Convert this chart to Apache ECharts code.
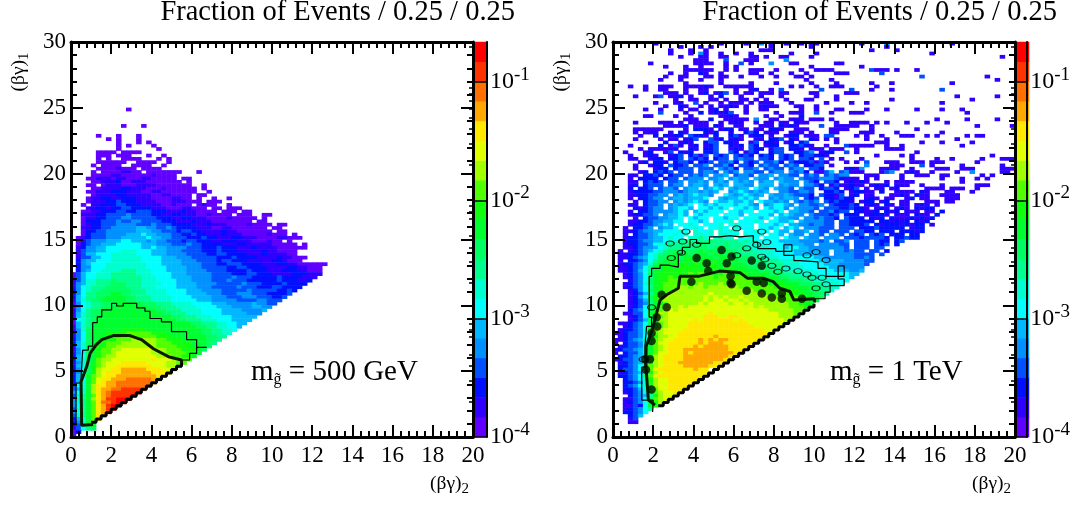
<!DOCTYPE html>
<html><head><meta charset="utf-8">
<style>html,body{margin:0;padding:0;background:#fff}#c{width:1073px;height:510px}</style>
<script src="https://cdn.jsdelivr.net/npm/echarts@6/dist/echarts.min.js"></script>
</head><body><div id="c"></div>
<script>
// palette bands, lowest fraction (a) to highest (t)
const paletteColors=['#6000ff','#3000ff','#0010ff','#0050ff','#0090ff','#00b8ff','#00ffff','#00ffd0','#00ff90','#00ff60','#00ff30','#10ff10','#50ff00','#a0ff00','#e0ff00','#ffe800','#ffa800','#ff7000','#ff3300','#ff0000'];
const barMajorValues=[1e-4,1e-3,1e-2,1e-1];
const barMinorValues=[2e-4,3e-4,4e-4,5e-4,6e-4,7e-4,8e-4,9e-4,2e-3,3e-3,4e-3,5e-3,6e-3,7e-3,8e-3,9e-3,2e-2,3e-2,4e-2,5e-2,6e-2,7e-2,8e-2,9e-2,2e-1];
// left panel: "row:" then runs of band letter + length, from column 0
const leftRows=["99:.11a1","94:.10a1.3a1","91:.5a1.3a1.3a1","90:.7a1.1a1.3a1","89:.9a1.3a1.1a1","88:.9a1.1a1.4a1","87:.9a1.7a1","86:.5a4.1a4","85:.5a3.1a3.3a1.2a1","84:.5a1.1a1.2a4.3a1.1a1","83:.5a6.2a4.2a1","82:.4a1.1a4.2a4.2a1","81:.5a4b1a3.1a4","80:.4a1.1a4b2a2.1a7.3a1","79:.4a4b2a6b1a4","78:.3a2b3a1b2a3b2a5.1a2","77:.4a2b3c1a2b3a7.1a1","76:.3a2.1a1b3a3b4a7.2a1","75:.4a2b4c2b3a3b1a6.1a1","74:.3a2b3c3b3a2b2a7.2a1","73:.4a1b4c2b5a2b2a4.1a2","72:.3a1b2c2b2c3b3a4b2a2.1a1.2a1.2a1","71:.3a1b3c2d1c3b4a3b3a3.1a3","70:.2a1.1b2c3d2c3b4a2b1a3.1a1b1a2.2a1","69:.3b2c2b1c2d2c4b3a3b2a3.1a2.1a3","68:.2a2b2c3d2c2d3c3b3c1b2a4.1a3.1a2","67:.2b3c2d4e1d4c2b2c2b3a2b1a4.1a3.2a2","66:.2a1b2c2d3e2d5c3b2c2b3a4b1a5.1a1","65:.2a1c3d3e1d2e2d4c3b3c1b3a8.1a2","64:.2a1b1c2d3e4d3e1d3c4b3c1b3a4b1a4.1a2","63:.2b2c2d2e5f2e2d2e1d1c4b3a2b2a7.1a2","62:.2a1c2d2e6f3e2d3c1d2c2b4c1b2a7.1a2","61:.2a1c1d3e4f3g1f2e3d2c2d1c2b3c1b3a5b1a3.1a1","60:.1a1b1c1d3e3f5g1f2e2d3c3d1c2b3c2b3a4b2a3","59:.1a1b1d1e3f3g2f3e1f1e2d3c1d2c3b2c3b3a3b1a2.1a1","58:.1a1c1d1e2f3g5f3e3d3e1d2c4b3c2b5a5.1a1","57:.1b1c1e2f2g7f2g1f2e4d3c3d1c3b3c1b4a6","56:.1b1d1e2f2g3h3g3f3e3d4c3d1c3b5c1b2a4","55:.1b1d1f2g3h5g3f3e4d4c2d2c4b3c1b4a2","54:.1b1d2f2g2h6g4f3e3d5c3d1c4b4c1b2a3","53:.1c1e1f2g3h6g4f4e3d4c1d2c3b5c2b1a3","52:.1c1e1f1g3h8g3f4e4d3c2d3c4b3c2b2a6","51:.1c1e2g3h8g4f4e3d5c2d2c4b4c2b2a3","50:.1c1e1f1g2h4i3h3g3f4e4d4c4d1c3b3c3b2a3","49:a1d1f1g2h3i5h3g4f3e5d4c3d2c3b4c3b3","48:a1d1f1g2h3i6h3g3f4e4d4e1d3c5d1c4b3","47:b1d1f1h2i3j1i5h3g4f3e4d3e1d3c6d1c3b2c1","46:b1e1f1h2i3j3i3h4g3f4e4d5e1d3c4d1c4","45:b1e1g1h1i3j4i3h3g4f4e3d5e1d3c3d2c4","44:c1e1g1h1i2j6i3h4g4f3e4d5e1d5c2d1c1","43:c1e1g1i2j3k2j2i3h4g4f4e3d3e3d3c4d1","42:c1f1g1i2j2k4j2i3h4g4f4e3d3e3d3c2d1","41:b1f1h1i1j2k5j2i3h4g5f3e5d4e2d3","40:a1e1g1h1i2j3k5j3i3h4g4f3e5f1e2d2","39:a1e1g1h1i2j2k7j3i3h4g4f3e4f2e2","38:b1e1g1i1j2k11j2i3h4g4f4e4f1","37:b1f1h1i1j2k12j2i3h3g4f5e3","36:b1f1h1i1j1k15j2i3h3g4f5","35:a1g1h1i1j1k16j2i3h3g3f4","34:a1f1h1i1k20j2i3h2g2f2","33:b1f1h1i1k21j2i2h2g2f1","32:b1e1h1j1k6l5k11j2i2h2g1","31:b1e1g1j1k3l4m5l3k7j2i2h2","30:b1e1g1j1k3l3m7l3k7j2i2","29:c1e1g1j1k2l3m3n5m2l3k5j2i1","28:c1f1h1j1k1l2m3n7m3l4k3j1i1","27:b1f1h1j1k1l2m2n8m4l3k3j1","26:b1e1g1j1k1l1m2n2o6n3m3l3k1j1","25:b1e1h1j1k1l1m2n1o7n3m4l2k1","24:c1f1g1j1k1l1m1n2o8n3m2l2k1","23:c1f1h1j1k1m1n2o8p1o3n2m2","22:b1e1h1j1k1m1n1o3p5o4n2m2","21:c1f1h1j1l1m1n1o2p7o3n2m1","20:c1e1g1j1l1n1o2p2q5p3o2n1","19:b1e1h1j1l1n1o1p3q6p3o1","18:c1f1h1k1m1n1o1p2q8p2","17:c1f1g1k1m1o1p2q3r5q2","16:c1f1h1k1m1o1p1q2r7q1","15:d1g1h1k1n1p2q2r7","14:d1f1h1k1n1p1q2r2s4r1","13:e1g1h1k1n1p1q1r1s6","12:d1h1i1k1m1p1q1r1s4t1","11:e1h1i1k1n1p1q1s2t3","10:e1h1i1k1m1p1r2s1t2","9:e1g1i1k1m1p1q1s1t2","8:d1h1i1k1m1p1q1s2","7:e1g1i1k1m1p1q1s1","6:d1h1i1k1m1p1q1","5:c1f1h1k1m1o1","4:c1e1h1k1m1","3:b1d1h1k2","2:b1d1g1i1j1","1:a1c1","0:a1"];
// right panel: "row:" then column + consecutive band letters
const rightRows=["119:8b 21b 26b 29e 31b 34b 37b 39bb 49b 54e 67b","118:13b 17b 19b 31b 39b 54b","117:11b 15b 18b 29bbb 51b 56b","116:11b 15b 17eb 21b 24b 27b 35b 40b 63b","115:13b 17bb 21bb 27bb 30b 33bb 39b 77b","114:16bbb 22d 26bbb 34e","113:7b 16bbb 19b 22b 25d 27b 31e 35bb 44bb","112:10b 14b 17b 22b 24b 39b 49b","111:14bb 16bbbb 22b 24b 27bbb 32b 37b 40bbbb 51dbbb 56b 60b","110:11b 14b 17cb 21b 27bb 31b 35b 38b 44bbb 53d","109:10b 13bb 18bb 21bb 25b 29b 32b 36bb 39b 61d 74b","108:9b 13b 17b 21b 38b 43b 76b","107:14b 21b 27b 32b 39b 44b 51b 55b 67b","106:3b 6b 9bbb 14bbb 17bc 19b 22b 23bbb 26bb 35b 37b 40b 43bbb 52b","105:6b 9bb 14b 17bb 24b 27bc 31b 33d 41d 47d 51b 55b 65d","104:10bbb 14b 17bc 20bcd 24b 26bb 29bbb 33bb 39bb 46bbb","103:4b 8bd 11bbc 15b 19b 21c 25b 29b 33b 40b 44b 68b 76b","102:12b 15bb 19bb 22b 25bb 28b 30b 34b 38bb 44b 55b 71b","101:8b 12bb 16d 18b 21b 23bbb 27b 29bbb 35b 42b 47b 50b 65b","100:10b 13cb 17b 19b 21bbc 24b 26b 29bcb 32b 36bb 40b","99:6b 9b 13b 15bb 19bc 22b 26b 29bb 37b 40b 44bb 50b 54b 60b 65b 69b","98:9d 14b 17c 19bcb 22cd 26b 32b 35bbb 40d 43b 47bbb 70b","97:6bb 12b 15b 21bb 23cb 30b 33b 37c","96:14bb 16b 19c 22bbb 25bb 28e 31bb 35bbb 39b 40bb 43b 64b 70b 76b","95:4b 9bbb 13b 15bbbb 21b 23bcb 28b 30bb 33bb 36cbb 44b 47bbbb 52b 54b 58b 62b 66b","94:10bbb 13bc 16bbb 20cb 24bb 29bbb 33cbcb 41d 44bbbbb 51b 72b 79b","93:4b 5bbbbb 14b 16cccb 21bcc 25bb 28bb 31ccb 36bbb 43bbbb 51b 60b","92:4b 6bbb 11b 13cb 18cbc 23b 26cdc 30bbb 35bbb 39b 43bb 49bbb 56b 65b","91:5b 8c 10cbcc 15dccb 20c 23cdb 27bcc 31b 34bcc 38bbb 42dd 48b 50b 53b 57bbb 62b 64b 70b 72bb","90:4b 9b 11bb 14bcd 19dbc 23bcb 28bb 31ccd 35cb 39cb 42b 44b 50b 54b 68b","89:6b 10c 13bcb 18cdd 22ccb 27bd 30ccb 34bc 37cd 44b 52bbb 61b 65b 71b","88:3b 9c 11bdb 15bc 18bcd 23cbc 27dc 30bcc 35ccd 38cb 42b 46dbb 49bbb 54b 57b 69b","87:5b 7bbbbbb 15cb 18ccd 23bcb 27dcc 31bdd 35ccb 39bbb 43bbb 48b 54bbbb","86:2b 6bc 10bd 13cbc 18ccd 23dc 26bdc 31cdd 36ccd 39e 41bcc 46d 48b 60b","85:3b 6bcb 11bcd 15cdbd 20dcd 24dcdc 29cdc 33dcd 37cdd 40ccb 52b 57b 59b 75b","84:3bb 7bcc 11ccd 15dcdc 20cdd 24dedd 29ddc 33dcd 37ddc 41d 43b 45b 49b 59b 64b 67b 73b 77bbb","83:5bc 8ccb 12cddc 17ccd 21ddec 26dcd 30ddec 35dcc 38cdb 41db 46b 48b 50d 54bbb 59bbb 63bbb 72b","82:4b 7bcc 11dccd 16dde 20ddec 25ddc 29dedd 34ded 38ccd 41d 43b 50e 55bbb 61d 63b 69b 77b","81:4b 8bcc 12cddd 17ddd 21edec 26dde 30dedd 35dee 39ddc 46bcbe 53bbbb 59b 64bbb 69bbb 77bbb","80:5bc 8cdcd 13ddd 17deed 22ede 26eedd 31dee 35edec 40bbd 43f 45de 47bbb 53bde 58bcb 63b 68b 71e 77bb","79:3bb 6ccdc 11cdd 15dede 20eef 24deed 29eef 33eedd 38ded 42dedee 50bbb 57b 60bbb 65bb 73b 75b","78:3b 5cccc 10cdd 14deee 19eef 23efee 28fee 32efee 37eddd 41eeedc 46bb 48b 50b 52b 57b 65b 69b 72b 74b","77:3bb 6cdcd 11dde 15eefe 20efe 24fefe 29eff 33feee 38edc 42ddc 46bc 48bcb 54b 56bbbb 69b","76:3bc 6cddd 11dee 15effe 20fef 24ffee 29fff 33efee 38eedc 43bdb 46bcb 49b 51bcbc 56bbb 61b 65b 72bbb","75:3c 5ccd 9deed 14eff 18efgf 23feff 28gfe 32feed 37edd 41cddc 46bcd 50b 52bb 55bc 62bbbb 67bbb 72b","74:3bcc 6ccddeee 13deffefef 23efgfefef 33eeddeed 42ccdc 47bcc 50bb 53c 56bbbb 61cb 66bb 71b","73:3bb 5ccddee 12efefgffe 22gfefgfef 31feefed 37ddc 41dccbd 47bc 50bb 55bbcb 60cbb 65bbbb","72:3b 5ccdee 11effefffg 21feffgfgf 31efeffe 38dcd 42ccbdcc 50bcb 54bb 58bc 61bb 66bbb","71:4b 6cddee 12efefgfe 20gffgffgf 29gffefe 36edede 42dcdccb 49bcc 53bc 57bb 62bbb 66bb","70:3bb 6cdde 11efefg 17gfgfgg 23gfggfe 30efggfe 37eedde 43dcccdc 50bcb 54cb 57bb 60bcb 64b","69:4cb 6cdee 11efggf 17ggfgfg 24ggfgf 30gfgge 36feeed 42dddcc 47dccb 52bcb 56bcb 60cb 62cc","68:3b 5ccdee 10eefgf 16fgfggg 23ggfgg 29gggfg 35ffeed 41ddec 45dd 48ccbbc 54cbc 58bbb 62bb 65c","67:3bc 5cdde 10effgf 16gfggg 22gggf 27ggggf 33fgfee 39edd 42dcd 46ccc 50bcc 53cb 56bbb 60cbb 64c","66:4b 6cdd 9eeffg 15gfgg 20ggfgg 26gggfg 32gffee 38eed 41eddc 46dccc 51cbc 55cbb 58bcb 61cb 63c","65:3bb 5ccde 9effgg 15ggfg 20gggh 25ggghg 31ggffg 37fee 40eedd 45ddc 48cccc 53ccb 56cbc 60cb 62c","64:3bc 5cdd 8efgf 13gghg 18gggh 23ghggg 29gggfg 35ffe 38ede 41edd 45ddc 48ccd 52cbc 55ccb 58cbcc 63b","63:2b 4ccde 9effg 14gghg 19gghg 24hggg 29ggfg 34fgf 38eee 41ddd 45ddd 49ccc 52dcc 55ccc 59bc 61c","62:2bb 4cde 7effg 11gghg 16hggh 21hghg 26gghgg 32gff 36eef 40edd 44ddd 48ddcc 53ccc 57cc 59cbc","61:2b 4cdd 7efgg 11ghgh 16hhgh 21hhgh 26hggg 31ggf 35fee 39eed 43eed 47dcd 51dcd 55ccc 59cc","60:2b 3ccd 6deff 10ghgg 15hhih 20hihh 25hghg 30ggg 34gff 38fee 42eee 46ddd 49cdd 52ddc 56ccd 59cc","59:2bc 4cde 7effg 11hhii 15iiii 19jiii 23iihi 27hhgg 31ggf 34fff 37eee 40ede 44dde 48ddd 52dcc 56cd","58:2b 3ccd 6deg 9hhi 12iiij 16ijji 20iiji 24iihh 28hhg 31ggg 34fff 37fee 41eee 44edd 48ddd 52dcd 56c","57:2bb 4cde 7efg 10hii 13ijij 17jjij 21jjii 25iihh 29hhg 32ggf 35ggf 38fee 41eee 44eed 48ddd 52dd","56:1b 3bcd 6efg 9hij 12jjjj 16jkjk 20jjkj 24jiii 28hhh 31hgg 34ggf 37ffe 40fee 44eed 47edd 51dd 54c","55:1bb 3ccd 6eg 8hij 11jkj 14kjkk 18kjkk 22jjji 26iii 29hhh 32gg 34ggf 37fff 40fee 44eee 47edd 50dd 53d","54:1b 2bc 4de 6fg 8hjj 11kkj 14kkkk 18kkjk 22kjjj 26jii 29ihh 32hgg 35ggg 38ggf 41fee 44eee 47ed 49ded","53:1b 3cc 5de 7gi 9jkk 12kkkl 16kkkk 20lkkk 24kjjj 28jii 31iih 34hhh 37ggg 40gff 43fff 46eee 49e 50dd","52:1bc 3cd 5ef 7hj 9kkk 12lkl 15kll 18kllk 22kkk 25kjj 28jii 31iii 34hhh 37ggg 40ggf 43ffe 46eee 49ed","51:1b 2bc 4de 6gi 8kkl 11lkl 14lll 17kll 20lkl 23lkk 26kjj 29jji 32iih 35hhh 38ggg 41ggf 44ffe 47ee 49e","50:1bb 3cd 5fg 7ik 9kll 12lll 15lll 18lll 21lll 24llk 27kkj 30jji 33ihh 36hhh 39hgg 42ggf 45ffe 48ef","49:2b 3cd 5eg 7jk 9lll 12lll 15mlm 18mml 21lml 24lll 27kkk 30kjj 33jii 36ihh 39hhg 42ggg 45ggf 48f","48:2bc 4de 6gi 8kl 10lml 13mmm 16mmm 19mlm 22mmm 25mll 28llk 31kkj 34jii 37iii 40hhh 43ggg 46gf","47:3b 4de 6gj 8kl 10lmm 13mmm 16mmm 19mmm 22mmm 25mmm 28lll 31lkk 34kjj 37jii 40hhh 43hgg 46g","46:2bc 4de 6hj 8kl 10mmm 13mmm 16mnm 19mmn 22mnm 25mmm 28mml 31lll 34kkk 37jjj 40iih 43hh 45g","45:2b 3cd 5eg 7ik 9lm 11mmn 14nmn 17nmn 20nnn 23nnm 26mmm 29mmm 32lll 35lkk 38kjj 41ii 43hh","44:3bc 5eg 7jk 9lm 11mnn 14nnn 17nnn 20nnn 23nnn 26nnm 29mmm 32mml 35ll 37kk 39jj 41ii 43h","43:3b 4cd 6fi 8kl 10mn 12nnn 15nnn 18non 21nnn 24nnn 27nnn 30mmm 33mml 36ll 38kk 40jj 42i","42:3bc 5eg 7jl 9mn 11nnn 14nnn 17non 20ono 23nno 26nnn 29nnn 32mmm 35mm 37ll 39kk 41j","41:3b 4cd 6fj 8lm 10nn 12nnn 15nnn 18ono 21ono 24ono 27nnn 30nnn 33mm 35mm 37ll 39kk","40:3bc 5de 7ik 9lm 11nn 13nnn 16non 19ooo 22ono 25ono 28nnn 31nn 33nn 35mm 37ll 39k","39:3b 4cd 6gj 8lm 10nn 12non 15ooo 18ooo 21ooo 24ooo 27ono 30nn 32nn 34nm 36mm 38l","38:3c 4de 6gj 8lm 10no 12noo 15ooo 18ooo 21ooo 24ooo 27ooo 30on 32nn 34nn 36mm","37:2bb 4dd 6gk 8ln 10no 12ooo 15ooo 18opo 21ooo 24ooo 27ooo 30oo 32on 34nn 36m","36:3bc 5dg 7jl 9mn 11oo 13ooo 16oop 19ppo 22opp 25ooo 28oo 30oo 32on 34nn","35:3b 4cd 6fj 8ln 10no 12ooo 15opo 18ppp 21ppp 24opo 27ooo 30oo 32oo 34n","34:1bb 3cd 5eg 7jl 9mn 11oo 13oop 16ppp 19ppp 22ppp 25ppo 28oo 30oo 32oo","33:2bc 4de 6gk 8lm 10no 12oo 14opp 17ppp 20ppp 23ppp 26ppo 29oo 31oo","32:1b 2cc 4de 6hk 8mn 10oo 12oo 14ppp 17ppp 20ppp 23ppp 26ppp 29po 31o","31:0bb 2cd 4de 6gk 8mn 10oo 12op 14ppp 17ppp 20ppp 23ppp 26ppp 29pp","30:1bc 3dd 5eg 7kl 9nn 11oo 13ppp 16ppp 19pqp 22ppp 25ppp 28ppp","29:0b 1bc 3de 5fh 7km 9no 11op 13ppp 16pqp 19qpq 22qpp 25ppp 28p","28:0b 2cd 4de 6gk 8mo 10op 12pp 14ppp 17qpq 20qqp 23ppp 26pp","27:1bc 3dd 5eg 7km 9no 11pp 13pp 15pqp 18qqq 21qqp 24pp 26p","26:0b 1cd 3de 5fh 7km 9no 11pp 13pq 15qqq 18qqq 21qqp 24pp","25:0b 2cd 4df 6gk 8mo 10op 12pp 14qpq 17qqq 20qqq 23qp","24:1cc 3de 5fh 7ln 9op 11pp 13pq 15qqq 18qqq 21qqp","23:0b 1cd 3de 5fh 7ln 9op 11pp 13pq 15qqq 18qqq 21qp","22:1bc 3de 5fi 7ln 9op 11pp 13qq 15qqq 18qqp 21p","21:1cc 3de 5gi 7mn 9op 11pp 13pq 15qqq 18qp 20p","20:1cd 3de 5gi 7mo 9pp 11pp 13pp 15pqp 18p","19:1bc 3de 5fi 7ln 9op 11pp 13pp 15ppp 18p","18:1cc 3de 5gi 7mo 9pp 11pp 13pp 15pp 17p","17:2cd 4eg 6hl 8no 10op 12pp 14pp 16p","16:2cc 4de 6hl 8no 10op 12pp 14pp","15:2cd 4eg 6hl 8no 10op 12pp 14p","14:2cc 4df 6hl 8mo 10op 12pp","13:2bc 4de 6hk 8mn 10oo 12p","12:3cd 5ef 7il 9no 11o","11:2b 3bd 5eg 7jm 9no","10:2bc 4de 6gj 8ln","9:2bb 4dc 6gk 8l","8:2b 3cd 5eg 7i","7:2cc 4de 6g","6:3cd 5f","5:3bd","4:3bb"];
// contours, in (βγ)2, (βγ)1 units
const leftThin=[[0.25,0.9],[0.25,4.1],[0.5,4.5],[0.58,6.6],[0.86,6.9],[1.08,8.68],[1.31,9.13],[1.53,9.65],[2.02,10.15],[2.27,9.95],[2.6,10.15],[3.27,9.8],[3.68,9.55],[3.93,9.0],[4.5,8.75],[5.0,8.0],[5.75,7.4],[6.25,6.8],[6.75,6.8],[6.25,6.35],[5.9,5.85],[5.5,5.5]];
const leftThick=[[1.1,0.95],[0.53,0.9],[0.5,4.2],[0.78,5.35],[0.95,6.35],[1.25,7.0],[1.53,7.4],[2.1,7.7],[2.93,7.7],[3.5,7.4],[4.1,6.7],[4.85,6.1],[5.5,5.85],[5.5,5.6]];
const leftEdge=[1,1.25,1.5,1.75,2,2.25,2.5,2.75,3,3.25,3.5,3.75,4,4.25,4.5,4.75,5,5.25,5.5];
const rightThin=[[1.97,1.9],[2.0,2.8],[1.43,3.8],[1.43,5.3],[1.59,5.95],[1.59,6.95],[1.67,8.4],[1.92,9.1],[1.8,10.4],[1.8,12.2],[1.92,12.8],[2.34,13.05],[2.75,12.9],[3.25,13.9],[3.45,14.4],[3.83,15],[4.16,14.7],[4.8,15.2],[5.3,15.3],[5.82,15.2],[6.3,15.3],[6.98,14.8],[7.2,14.3],[8.1,14.1],[8.9,14.6],[8.5,13.8],[9,13.4],[9.3,13.3],[10.2,13.3],[10.2,12.8],[10.6,12.2],[11.1,12.2],[11.5,13],[11.2,12],[11.5,11.5],[10.8,11],[10.55,10.5],[10.05,10.2]];
const rightThick=[[2.09,2.43],[1.76,2.8],[1.64,5.3],[1.65,6.9],[1.92,8],[2.17,9.4],[2.34,10.4],[2.67,10.8],[3.25,11.3],[3.33,12.2],[3.9,12.2],[4.25,12.2],[5.3,12.6],[6.3,12.5],[6.7,12.05],[7.5,12.05],[7.97,11.8],[8.3,11.3],[8.8,11.05],[9,10.4],[10,10.5],[10.05,10.27]];
const rightEdge=[2.25,2.5,2.75,3,3.25,3.5,3.75,4,4.25,4.5,4.75,5,5.25,5.5,5.75,6,6.25,6.5,6.75,7,7.25,7.5,7.75,8,8.25,8.5,8.75,9,9.25,9.5,9.75,10];
const rightBlobs=[[4.16,13.6],[4.66,13.2],[5.66,13.2],[5.4,14.2],[4.74,12.6],[5.85,12.2],[5.85,11.7],[3.9,11.8],[2.42,10.8],[2.67,9.85],[2.17,9.1],[2.2,8.4],[1.92,7.9],[1.92,7.3],[1.84,5.9],[1.6,5.9],[1.64,5.1],[1.92,3.6],[6.9,13.4],[7.4,13],[6.65,11.1],[7.4,10.9],[7.9,10.6],[7.15,11.8],[7.5,11.7],[8.4,10.5],[9.4,10.5],[8.4,10.9],[5.9,11.6],[5.9,13.7]];
const rightRings=[[6.65,14.33],[6.15,13.8],[7.15,14.6],[7.9,13],[8.2,12.55],[8.6,12.8],[9.2,12.6],[9.9,12.1],[10.4,12.1],[10.1,11.3],[10.6,11.6],[9.65,12.35],[10.6,13.45],[7.55,13.5],[7.4,13.7],[6.15,15.85],[7.4,15.6],[7.65,14.8],[9.65,13.8],[10.1,14.05],[3.63,15.6],[2.84,14.7],[3.47,14.85],[4.16,14.6],[3.4,14],[2.9,13.6],[1.92,9.85],[1.5,5.9]];
const titleText='Fraction of Events / 0.25 / 0.25';

const code=ch=>ch.charCodeAt(0)-97;
function decodeRuns(rows){const out=[];rows.forEach(s=>{const [r,body]=s.split(':');let c=0;for(const m of body.matchAll(/([.a-t])(\d+)/g)){const n=+m[2];if(m[1]!=='.')for(let i=0;i<n;i++)out.push([c+i,+r,code(m[1])]);c+=n;}});return out;}
function decodeCells(rows){const out=[];rows.forEach(s=>{const [r,body]=s.split(':');for(const m of body.matchAll(/(\d+)([a-t]+)/g)){[...m[2]].forEach((ch,i)=>out.push([+m[1]+i,+r,code(ch)]));}});return out;}

const font='"Liberation Serif","Times New Roman",serif';
const range=n=>Array.from({length:n},(_,i)=>i);
const opt={animation:false,backgroundColor:'#fff',textStyle:{fontFamily:font},
 grid:[],xAxis:[],yAxis:[],series:[],graphic:[],
 visualMap:{type:'piecewise',show:false,seriesIndex:[],dimension:2,
  pieces:paletteColors.map((color,i)=>({min:i-0.5,max:i+0.5,color}))}};
const line={lineStyle:{color:'#000',width:3}};
function addPanel(dx,cells,thin,thick,edge,extra){
 const G={left:71+dx,top:42,width:402,height:395};
 const g0=opt.grid.length;
 opt.grid.push(G,G,{left:475+dx,top:42,width:12,height:395},{left:475+dx,top:42,width:12,height:395});
 const hx=opt.xAxis.length,hy=opt.yAxis.length;
 const hidden={show:false};
 opt.xAxis.push({type:'category',gridIndex:g0,data:range(80),...hidden});
 opt.yAxis.push({type:'category',gridIndex:g0,data:range(120),...hidden});
 opt.visualMap.seriesIndex.push(opt.series.length);
 opt.series.push({type:'heatmap',xAxisIndex:hx,yAxisIndex:hy,data:cells,progressive:0,animation:false,z:1});
 const tickSet=(split)=>({axisTick:{show:true,inside:true,length:12,lineStyle:{color:'#000',width:2}},
   minorTick:{show:true,splitNumber:split,length:6,lineStyle:{color:'#000',width:2}},splitLine:{show:false},minorSplitLine:{show:false},axisLine:{show:true,onZero:false,...line},z:5});
 const lab={fontFamily:font,fontSize:23,color:'#000'};
 const vx=opt.xAxis.length,vy=opt.yAxis.length;
 opt.xAxis.push({type:'value',gridIndex:g0+1,min:0,max:20,interval:2,position:'bottom',...tickSet(5),axisLabel:{...lab,margin:7}});
 opt.xAxis.push({type:'value',gridIndex:g0+1,min:0,max:20,interval:2,position:'top',...tickSet(5),axisLabel:{show:false}});
 opt.yAxis.push({type:'value',gridIndex:g0+1,min:0,max:30,interval:5,position:'left',...tickSet(5),axisLabel:{...lab,margin:5}});
 opt.yAxis.push({type:'value',gridIndex:g0+1,min:0,max:30,interval:5,position:'right',...tickSet(5),axisLabel:{show:false}});
 opt.series.push({type:'line',xAxisIndex:vx,yAxisIndex:vy,data:thin,step:'end',showSymbol:false,symbol:'none',lineStyle:{color:'#000',width:1.2},z:3,silent:true});
 opt.series.push({type:'line',xAxisIndex:vx,yAxisIndex:vy,data:thick,showSymbol:false,symbol:'none',lineStyle:{color:'#0a1a00',width:3},z:3,silent:true});
 opt.series.push({type:'line',xAxisIndex:vx,yAxisIndex:vy,data:edge.map(v=>[v,v+0.12]),step:'end',showSymbol:false,symbol:'none',lineStyle:{color:'#000',width:3},z:3,silent:true});
 if(extra){
  opt.series.push({type:'scatter',xAxisIndex:vx,yAxisIndex:vy,data:extra.blobs,symbolSize:8.5,itemStyle:{color:'#041000'},z:3,silent:true});
  opt.series.push({type:'scatter',xAxisIndex:vx,yAxisIndex:vy,data:extra.rings,symbolSize:[8,5],itemStyle:{color:'rgba(0,0,0,0)',borderColor:'#000',borderWidth:1.2},z:3,silent:true});
 }
 // colour bar
 const bx=opt.xAxis.length,by=opt.yAxis.length;
 opt.xAxis.push({type:'category',gridIndex:g0+2,data:[0],...hidden});
 opt.yAxis.push({type:'category',gridIndex:g0+2,data:range(20),...hidden});
 opt.visualMap.seriesIndex.push(opt.series.length);
 opt.series.push({type:'heatmap',xAxisIndex:bx,yAxisIndex:by,data:paletteColors.map((c,i)=>[0,i,i]),z:1});
 const logAx={type:'log',gridIndex:g0+3,min:1e-4,max:0.218,position:'right',splitLine:{show:false},z:5};
 opt.xAxis.push({type:'value',gridIndex:g0+3,min:0,max:1,...hidden});
 opt.yAxis.push({...logAx,axisLine:{show:true,onZero:false,lineStyle:{color:'#000',width:2}},
   axisTick:{show:true,inside:true,length:12,customValues:barMajorValues,lineStyle:{color:'#000',width:1.5}},
   axisLabel:{customValues:barMajorValues,margin:3,fontFamily:font,color:'#000',
     formatter:v=>'{b|10}{s|'+Math.round(Math.log10(v))+'}',
     rich:{b:{fontFamily:font,fontSize:24,color:'#000'},s:{fontFamily:font,fontSize:19,color:'#000',padding:[0,0,14,0]}}}});
 opt.yAxis.push({...logAx,axisLine:{show:false},
   axisTick:{show:true,inside:true,length:6,customValues:barMinorValues,lineStyle:{color:'#000',width:1.5}},
   axisLabel:{show:false}});
}
addPanel(0,decodeRuns(leftRows),leftThin,leftThick,leftEdge,null);
addPanel(542,decodeCells(rightRows),rightThin,rightThick,rightEdge,{blobs:rightBlobs,rings:rightRings});

const rich={s:{font:'16px '+font,fill:'#000',padding:[16,0,0,0]}};
[0,542].forEach(dx=>{
 opt.graphic.push({type:'text',z:10,x:515+dx,y:13,style:{text:titleText,font:'28.5px '+font,fill:'#000',align:'right',verticalAlign:'middle'}});
 opt.graphic.push({type:'text',z:10,x:430+dx,y:484,style:{text:'(βγ){u|2}',font:'19.5px '+font,fill:'#000',verticalAlign:'middle',rich:{u:{font:'15px '+font,fill:'#000',padding:[10,0,0,0]}}}});
 opt.graphic.push({type:'text',z:10,x:19+dx,y:72,rotation:Math.PI/2,style:{text:'(βγ){u|1}',font:'19.5px '+font,fill:'#000',align:'center',verticalAlign:'middle',rich:{u:{font:'15px '+font,fill:'#000',padding:[10,0,0,0]}}}});
});
opt.graphic.push({type:'text',z:10,x:251,y:372,style:{text:'m{s|g̃} = 500 GeV',font:'29px '+font,fill:'#000',verticalAlign:'middle',rich}});
opt.graphic.push({type:'text',z:10,x:830,y:372,style:{text:'m{s|g̃} = 1 TeV',font:'29px '+font,fill:'#000',verticalAlign:'middle',rich}});
const chart=echarts.init(document.getElementById('c'),null,{renderer:'canvas'});
chart.setOption(opt);
</script></body></html>
